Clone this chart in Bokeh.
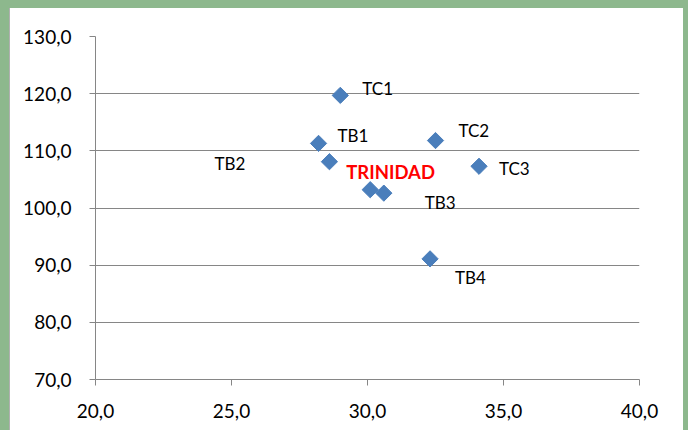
import math
from bokeh.plotting import figure
from bokeh.models import ColumnDataSource, FixedTicker
from bokeh.core.properties import value
from bokeh.embed import file_html
from bokeh.resources import INLINE

# ---- data ----
names = ["TC1", "TB1", "TB2", "TC2", "TC3", "TRINIDAD", "TB3", "TB4"]
x_vals = [29.0, 28.2, 28.6, 32.5, 34.1, 30.1, 30.6, 32.3]
y_vals = [119.7, 111.3, 108.1, 111.8, 107.3, 103.2, 102.6, 91.1]

x_ticks = [20, 25, 30, 35, 40]
x_tick_labels = ["20,0", "25,0", "30,0", "35,0", "40,0"]
y_ticks = [70, 80, 90, 100, 110, 120, 130]
y_tick_labels = ["70,0", "80,0", "90,0", "100,0", "110,0", "120,0", "130,0"]

# label placement (screen-pixel offsets, style only)
label_dx = [22, 19, -115, 23, 20, -24, 41, 25]
label_dy = [-7, -8, 2, -10, 2, -18, 9, 19]
label_colors = ["#000000", "#000000", "#000000", "#000000", "#000000", "#ff0000", "#000000", "#000000"]
label_styles = ["normal", "normal", "normal", "normal", "normal", "bold", "normal", "normal"]
label_sizes = ["17px", "17px", "17px", "17px", "17px", "18.5px", "17px", "17px"]

FONT = "Lato"
GRAY = "#868686"
GREEN = "#8db88d"

src = ColumnDataSource(dict(x=x_vals, y=y_vals, name=names, dx=label_dx, dy=label_dy,
                            col=label_colors, fs=label_styles, sz=label_sizes))

p = figure(width=688, height=430, output_backend="svg", toolbar_location=None,
           x_range=(20, 40), y_range=(70, 130),
           min_border_left=95, min_border_right=49, min_border_top=36, min_border_bottom=51)
p.styles = {"box-shadow": f"inset 9px 8px 0 0 {GREEN}, inset -5px 0 0 0 {GREEN}, inset 10px 0 0 0 #b0b0b0",
            "background-color": "white"}

p.outline_line_color = None
p.background_fill_color = "white"
p.border_fill_color = None

p.xgrid.visible = False
p.ygrid.grid_line_color = GRAY
p.ygrid.grid_line_width = 1

for ax in (p.xaxis[0], p.yaxis[0]):
    ax.axis_line_color = GRAY
    ax.major_tick_line_color = GRAY
    ax.minor_tick_line_color = None
    ax.major_tick_in = 0
    ax.major_tick_out = 6
    ax.major_label_text_font = FONT
    ax.major_label_text_font_size = "19px"
    ax.major_label_text_color = "#000000"
p.xaxis.major_label_standoff = 18
p.yaxis.major_label_standoff = 18

p.xaxis.ticker = FixedTicker(ticks=x_ticks)
p.yaxis.ticker = FixedTicker(ticks=y_ticks)
p.xaxis.major_label_overrides = {t: l for t, l in zip(x_ticks, x_tick_labels)}
p.yaxis.major_label_overrides = {t: l for t, l in zip(y_ticks, y_tick_labels)}

p.scatter("x", "y", source=src, marker="square", size=11.5, angle=math.pi / 4,
          fill_color="#4a7ebb", line_color="#4a7ebb")

p.text("x", "y", text="name", source=src, x_offset="dx", y_offset="dy",
       text_color="col", text_font_style="fs", text_font=value(FONT),
       text_font_size="sz", text_baseline="middle", text_align="left")

open("out.html", "w").write(file_html(p, INLINE))
